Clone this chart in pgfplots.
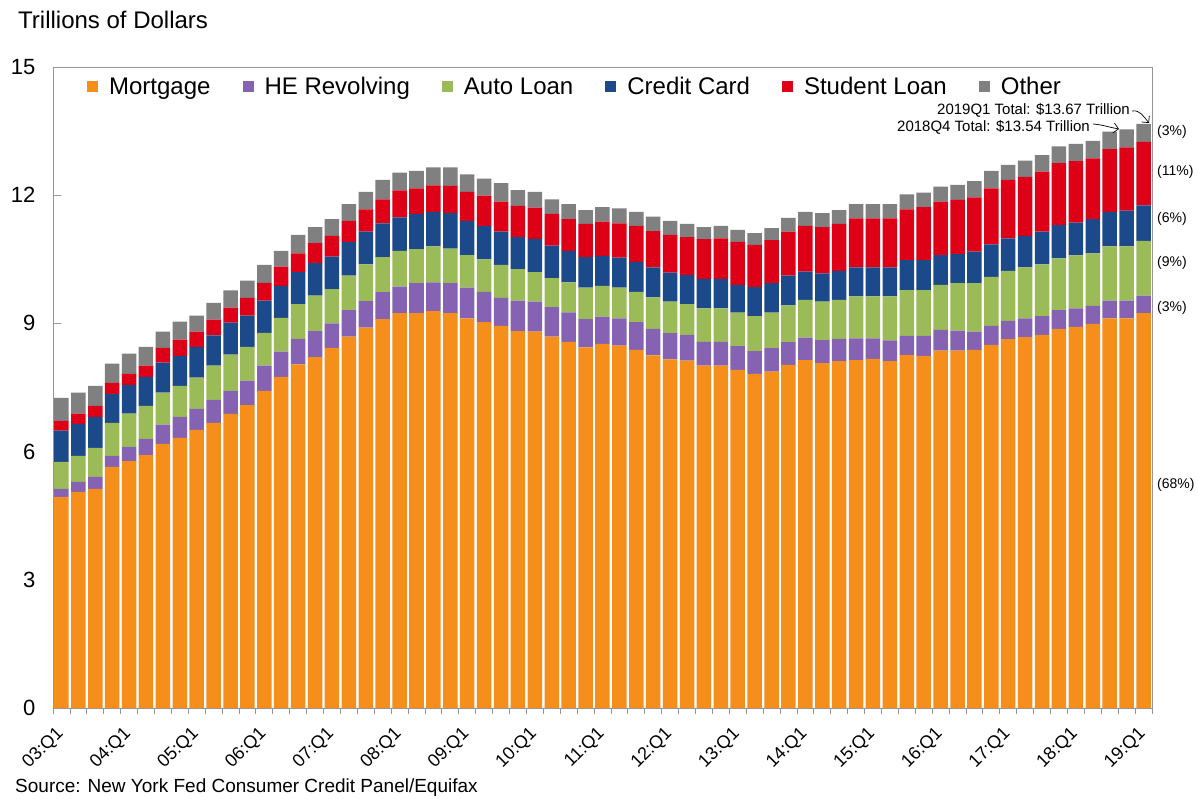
\documentclass[border=0pt]{standalone}
\usepackage{fontspec}
\setmainfont{Liberation Sans}
\usepackage{graphicx}
\usepackage{pgfplots}
\usepackage{pgfplotstable}
\pgfplotsset{compat=1.18}
\usetikzlibrary{arrows.meta}
\definecolor{cM}{RGB}{246,142,28}
\definecolor{cHE}{RGB}{134,98,178}
\definecolor{cAuto}{RGB}{155,187,89}
\definecolor{cCC}{RGB}{28,73,138}
\definecolor{cSL}{RGB}{222,0,22}
\definecolor{cOth}{RGB}{128,128,128}
\definecolor{axgray}{RGB}{150,150,150}
\pgfplotstableread{
M HE Auto CC SL Oth
4.94 0.19 0.63 0.73 0.23 0.54
5.06 0.23 0.61 0.75 0.24 0.49
5.13 0.28 0.68 0.72 0.26 0.47
5.64 0.26 0.77 0.68 0.26 0.45
5.78 0.33 0.78 0.67 0.26 0.47
5.92 0.38 0.77 0.68 0.26 0.44
6.18 0.45 0.75 0.70 0.35 0.38
6.32 0.49 0.73 0.70 0.38 0.42
6.51 0.49 0.73 0.72 0.36 0.37
6.67 0.54 0.80 0.71 0.37 0.39
6.88 0.54 0.85 0.75 0.35 0.40
7.09 0.57 0.79 0.73 0.42 0.40
7.42 0.59 0.77 0.75 0.42 0.42
7.75 0.59 0.79 0.75 0.45 0.37
8.04 0.60 0.81 0.75 0.44 0.43
8.21 0.61 0.83 0.76 0.47 0.37
8.43 0.57 0.80 0.76 0.49 0.39
8.69 0.62 0.81 0.79 0.49 0.39
8.90 0.62 0.86 0.77 0.52 0.41
9.10 0.63 0.82 0.79 0.56 0.46
9.24 0.62 0.84 0.78 0.63 0.42
9.24 0.70 0.80 0.82 0.60 0.41
9.29 0.67 0.84 0.81 0.62 0.42
9.24 0.70 0.81 0.83 0.64 0.43
9.12 0.72 0.76 0.80 0.68 0.41
9.03 0.71 0.76 0.78 0.71 0.40
8.94 0.66 0.77 0.78 0.70 0.43
8.82 0.71 0.74 0.75 0.73 0.37
8.81 0.70 0.69 0.78 0.73 0.37
8.69 0.69 0.68 0.76 0.74 0.34
8.57 0.69 0.70 0.74 0.74 0.35
8.44 0.66 0.74 0.71 0.78 0.32
8.52 0.64 0.72 0.70 0.80 0.34
8.48 0.64 0.72 0.70 0.80 0.35
8.38 0.65 0.71 0.70 0.84 0.33
8.25 0.62 0.74 0.70 0.85 0.34
8.16 0.61 0.74 0.68 0.88 0.33
8.13 0.60 0.72 0.68 0.89 0.31
8.01 0.56 0.78 0.69 0.93 0.28
8.01 0.56 0.78 0.69 0.95 0.29
7.91 0.56 0.78 0.65 1.01 0.28
7.82 0.53 0.82 0.68 0.99 0.27
7.87 0.55 0.83 0.69 1.01 0.28
8.03 0.53 0.86 0.70 1.03 0.32
8.14 0.53 0.88 0.66 1.07 0.33
8.07 0.54 0.90 0.66 1.08 0.33
8.12 0.52 0.91 0.68 1.10 0.32
8.14 0.51 0.98 0.68 1.15 0.33
8.17 0.48 0.98 0.68 1.15 0.33
8.12 0.48 1.03 0.68 1.15 0.33
8.26 0.45 1.07 0.70 1.19 0.35
8.24 0.47 1.07 0.70 1.24 0.34
8.36 0.49 1.05 0.70 1.25 0.35
8.36 0.47 1.11 0.68 1.27 0.35
8.38 0.43 1.13 0.74 1.27 0.38
8.50 0.44 1.15 0.76 1.31 0.41
8.63 0.43 1.17 0.76 1.37 0.35
8.68 0.44 1.19 0.74 1.38 0.38
8.73 0.44 1.21 0.77 1.40 0.39
8.87 0.44 1.21 0.78 1.45 0.39
8.92 0.43 1.24 0.77 1.44 0.40
8.99 0.42 1.23 0.80 1.42 0.41
9.12 0.41 1.27 0.81 1.47 0.41
9.12 0.41 1.27 0.84 1.48 0.42
9.24 0.41 1.28 0.83 1.49 0.42
}\debt
\pgfplotsset{sqleg/.style={legend image code/.code={\fill[##1] (0pt,-5.5pt) rectangle (11pt,5.5pt);}}}
\newcommand{\rl}[1]{\rotatebox{45}{#1}}
\begin{document}
\begin{tikzpicture}[x=1pt,y=1pt]
\useasboundingbox (-53,-90) rectangle (1145,708);
\begin{axis}[
  at={(0,0)}, anchor=south west,
  scale only axis, width=1099pt, height=641pt,
  ybar stacked, bar width=14.5pt,
  xmin=-0.5, xmax=64.5, ymin=0, ymax=15,
  ytick={0,3,...,15},
  xtick={0,4,...,64},
  xticklabels={\rl{03:Q1},\rl{04:Q1},\rl{05:Q1},\rl{06:Q1},\rl{07:Q1},\rl{08:Q1},\rl{09:Q1},\rl{10:Q1},\rl{11:Q1},\rl{12:Q1},\rl{13:Q1},\rl{14:Q1},\rl{15:Q1},\rl{16:Q1},\rl{17:Q1},\rl{18:Q1},\rl{19:Q1}},
  minor xtick={-0.5,0.5,...,64.5},
  xtick pos=left, ytick pos=left,
  tick align=inside,
  major tick length=8pt, minor tick length=6pt,
  major x tick style={draw=none},
  minor x tick style={draw=axgray, line width=0.8pt, yshift=-6pt},
  major y tick style={draw=axgray, line width=0.8pt},
  axis line style={draw=axgray, line width=0.9pt},
  /pgf/number format/assume math mode=true,
  y tick label style={font=\fontsize{22}{24}\selectfont, xshift=-14pt},
  x tick label style={font=\fontsize{18}{20}\selectfont, inner sep=0pt, anchor=north east, xshift=5pt, yshift=-17pt},
  legend columns=6,
  legend style={draw=none, fill=none, at={(0.475,1)}, anchor=north, yshift=-6pt,
    font=\fontsize{24}{28}\selectfont,
    /tikz/every even column/.append style={column sep=30pt},
    /tikz/every odd column/.append style={column sep=9pt}},
  legend cell align=left,
]
\addplot+[fill=cM, draw=none, sqleg] table[x expr=\coordindex, y=M] {\debt};
\addlegendentry{Mortgage}
\addplot+[fill=cHE, draw=none, sqleg] table[x expr=\coordindex, y=HE] {\debt};
\addlegendentry{HE Revolving}
\addplot+[fill=cAuto, draw=none, sqleg] table[x expr=\coordindex, y=Auto] {\debt};
\addlegendentry{Auto Loan}
\addplot+[fill=cCC, draw=none, sqleg] table[x expr=\coordindex, y=CC] {\debt};
\addlegendentry{Credit Card}
\addplot+[fill=cSL, draw=none, sqleg] table[x expr=\coordindex, y=SL] {\debt};
\addlegendentry{Student Loan}
\addplot+[fill=cOth, draw=none, sqleg] table[x expr=\coordindex, y=Oth] {\debt};
\addlegendentry{Other}
\end{axis}
\node[anchor=west, font=\fontsize{24}{28}\selectfont, inner sep=0pt] at (-35,688) {Trillions of Dollars};
\node[anchor=west, font=\fontsize{19}{22}\selectfont, inner sep=0pt] at (-38,-80) {Source: New York Fed Consumer Credit Panel/Equifax};
\begin{scope}[every node/.style={anchor=west, inner sep=0pt, font=\fontsize{14}{16}\selectfont}]
\node at (1104,576) {(3\%)};
\node at (1104,536) {(11\%)};
\node at (1104,489) {(6\%)};
\node at (1104,445) {(9\%)};
\node at (1104,400) {(3\%)};
\node at (1104,223) {(68\%)};
\end{scope}
\node[anchor=east, inner sep=0pt, font=\fontsize{15}{17}\selectfont] at (1077,598) {2019Q1 Total: \$13.67 Trillion};
\node[anchor=east, inner sep=0pt, font=\fontsize{15}{17}\selectfont] at (1037,581) {2018Q4 Total: \$13.54 Trillion};
\draw[-{Straight Barb[length=5pt]}, line width=0.7pt] (1079,597) to[out=10,in=130] (1096,585);
\draw[-{Straight Barb[length=5pt]}, line width=0.7pt] (1040,584) to[out=-5,in=170] (1066,579);
\end{tikzpicture}
\end{document}
